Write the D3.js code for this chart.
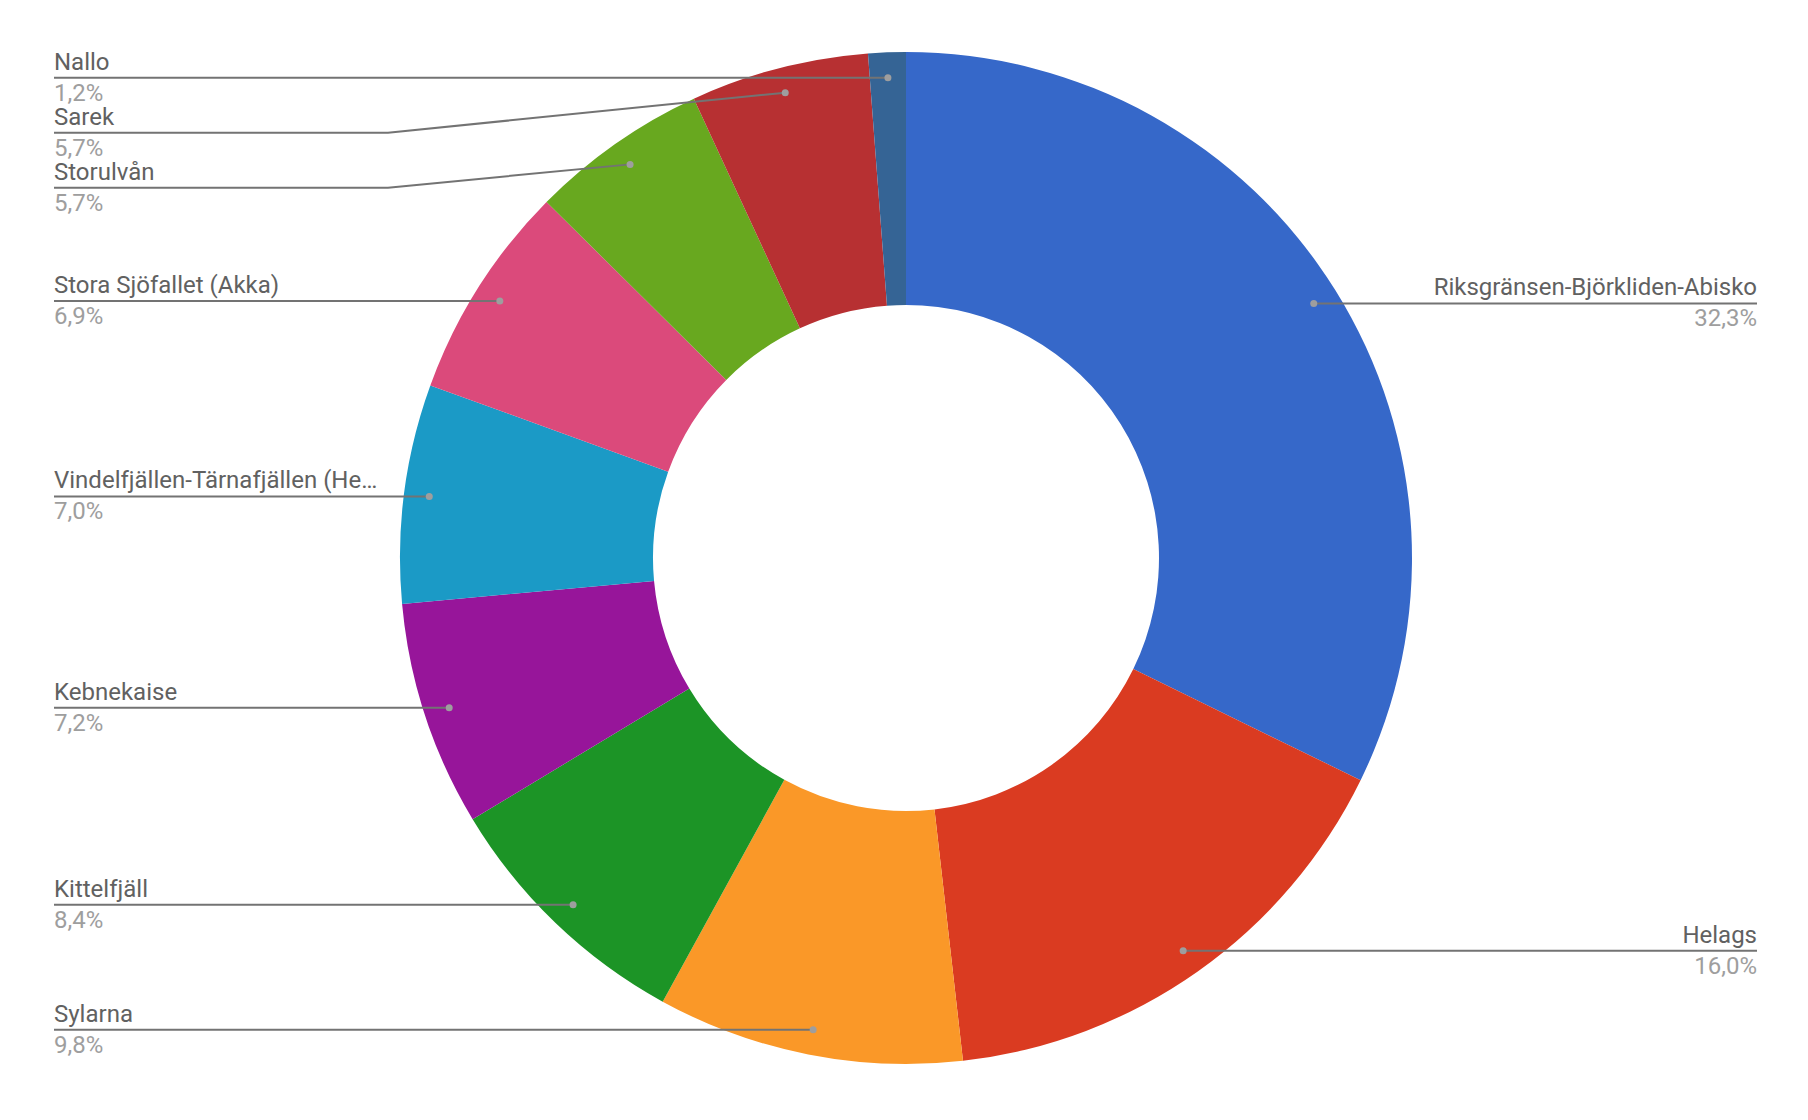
<!DOCTYPE html>
<html>
<head>
<meta charset="utf-8">
<script src="https://cdn.jsdelivr.net/npm/d3@7"></script>
<style>
  body { margin: 0; background: #fff; }
  text { font-family: Roboto, "Noto Sans", sans-serif; }
</style>
</head>
<body>
<div id="chart"></div>
<script>
// slices, clockwise from 12 o'clock
const categories = [
  'Riksgränsen-Björkliden-Abisko',
  'Helags',
  'Sylarna',
  'Kittelfjäll',
  'Kebnekaise',
  'Vindelfjällen-Tärnafjällen (He…',
  'Stora Sjöfallet (Akka)',
  'Storulvån',
  'Sarek',
  'Nallo'
];
const shares = [32.3, 16.0, 9.8, 8.4, 7.2, 7.0, 6.9, 5.7, 5.7, 1.2];
const colors = ['#3668c9', '#da3b21', '#fa9828', '#1c9426', '#97159a',
                '#1b9ac6', '#db4a7b', '#68a81f', '#b73032', '#356495'];

const width = 1808;
const height = 1120;
const cx = 906;
const cy = 558;
const outerR = 506;
const innerR = 253;
const leftX = 54;
const rightX = 1757;
const labelGap = 55;

const items = categories.map((name, i) => ({ name, value: shares[i], color: colors[i] }));

const svg = d3.select('#chart')
              .append('svg')
              .attr('width', width)
              .attr('height', height);

const pie = d3.pie()
              .sort(null)
              .value(d => d.value);

const arc = d3.arc()
              .innerRadius(innerR)
              .outerRadius(outerR);

const dotArc = d3.arc()
                 .innerRadius(outerR * 0.95)
                 .outerRadius(outerR * 0.95);

const arcs = pie(items);

svg.append('g')
   .attr('transform', `translate(${cx},${cy})`)
   .selectAll('path')
   .data(arcs)
   .enter()
   .append('path')
   .attr('d', arc)
   .attr('fill', d => d.data.color);

// label anchors, pushed apart vertically per side
const labels = arcs.map(d => {
  const c = dotArc.centroid(d);
  return { d, dotX: cx + c[0], dotY: cy + c[1], side: c[0] < 0 ? 'left' : 'right' };
});

['left', 'right'].forEach(side => {
  const group = labels.filter(l => l.side === side).sort((a, b) => a.dotY - b.dotY);
  let prev = -Infinity;
  group.forEach(l => {
    l.y = Math.max(l.dotY, prev + labelGap);
    prev = l.y;
  });
});

function leaderPath(l) {
  if (l.side === 'left') {
    const bendX = Math.min(cx - outerR - 12, l.dotX);
    return `M${leftX},${l.y}H${bendX}L${l.dotX},${l.dotY}`;
  }
  const bendX = Math.max(cx + outerR + 12, l.dotX);
  return `M${rightX},${l.y}H${bendX}L${l.dotX},${l.dotY}`;
}

const lab = svg.append('g');

lab.selectAll('path')
   .data(labels)
   .enter()
   .append('path')
   .attr('d', leaderPath)
   .attr('fill', 'none')
   .attr('stroke', '#737373')
   .attr('stroke-width', 2);

lab.selectAll('circle')
   .data(labels)
   .enter()
   .append('circle')
   .attr('cx', l => l.dotX)
   .attr('cy', l => l.dotY)
   .attr('r', 3.5)
   .attr('fill', '#9e9e9e');

lab.selectAll('text.name')
   .data(labels)
   .enter()
   .append('text')
   .attr('class', 'name')
   .text(l => l.d.data.name)
   .attr('x', l => l.side === 'left' ? leftX : rightX)
   .attr('y', l => l.y - 8)
   .attr('text-anchor', l => l.side === 'left' ? 'start' : 'end')
   .attr('font-size', 24)
   .attr('fill', '#616161');

lab.selectAll('text.pct')
   .data(labels)
   .enter()
   .append('text')
   .attr('class', 'pct')
   .text(l => l.d.data.value.toFixed(1).replace('.', ',') + '%')
   .attr('x', l => l.side === 'left' ? leftX : rightX)
   .attr('y', l => l.y + 23)
   .attr('text-anchor', l => l.side === 'left' ? 'start' : 'end')
   .attr('font-size', 24)
   .attr('fill', '#9e9e9e');
</script>
</body>
</html>
